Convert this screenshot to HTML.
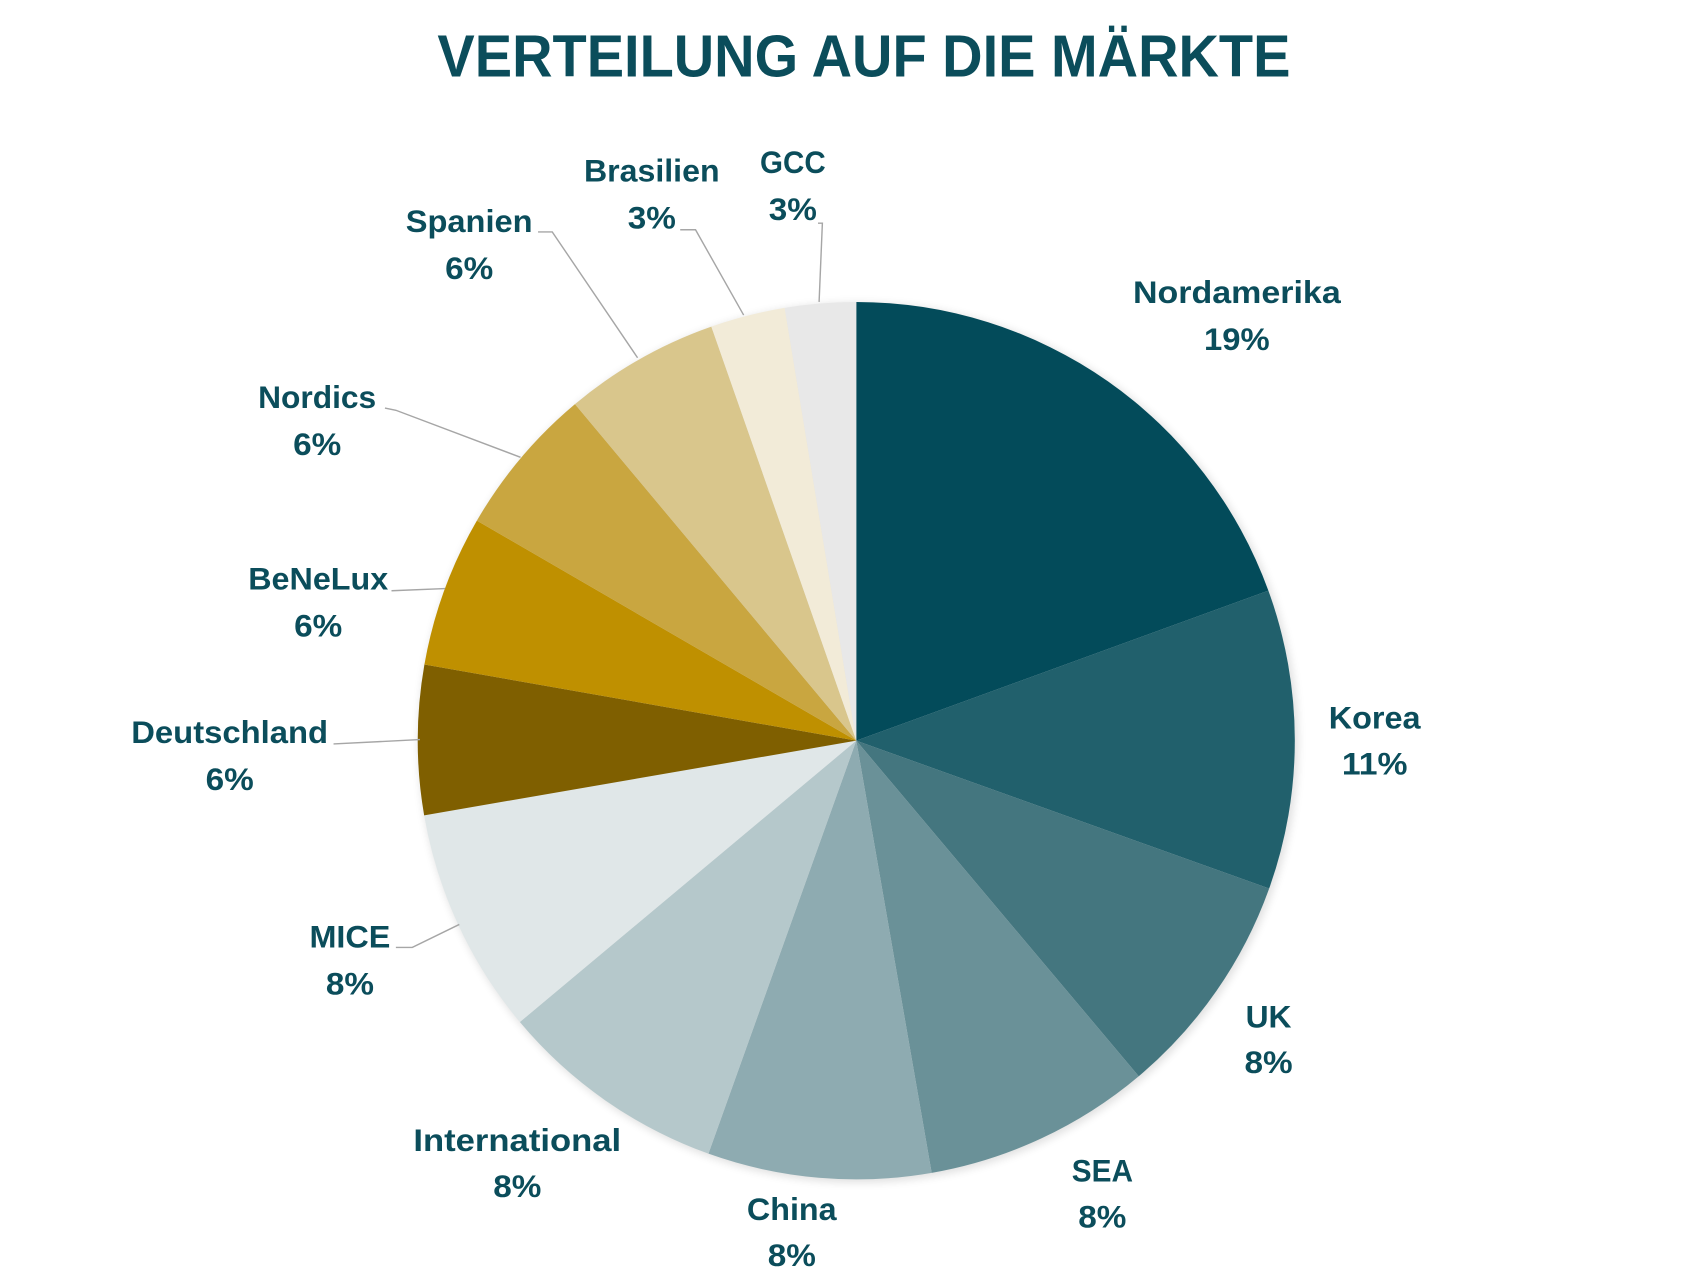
<!DOCTYPE html>
<html><head><meta charset="utf-8"><style>
html,body{margin:0;padding:0;background:#fff;}
svg{display:block;}
text{font-family:"Liberation Sans",sans-serif;font-weight:bold;fill:#0b4d5b;}
</style></head><body>
<svg id="s" width="1706" height="1280" viewBox="0 0 1560 1170" preserveAspectRatio="none">
<defs><filter id="sh" x="-10%" y="-10%" width="120%" height="120%"><feGaussianBlur stdDeviation="4"/></filter></defs>
<circle cx="785" cy="679" r="402" fill="#000" opacity="0.12" filter="url(#sh)"/>
<g id="pie"></g>
<text x="790" y="70" text-anchor="middle" font-size="54" textLength="780" lengthAdjust="spacingAndGlyphs">VERTEILUNG AUF DIE MÄRKTE</text>
<g fill="none" stroke="#a6a6a6" stroke-width="1.3">
<polyline points="492,212 505,212 583,327"/>
<polyline points="622,210 636,210 680,288"/>
<polyline points="748,204 752,204 749,276"/>
<polyline points="352,373 362,375 476,418"/>
<polyline points="358,540 407,538"/>
<polyline points="305,680 384,676"/>
<polyline points="362,866 377,866 420,845"/>
</g>
<g id="labels" font-size="29" text-anchor="middle"></g>
</svg>
<script>
var cx=783,cy=677,r=401;
var b=[0,70,109.7,139.9,170.1,199.7,230.1,260.2,280,300.1,320.1,340.7,350.6,360];
var c=["#034b5a","#21606c","#44767f","#6a9198","#8eabb1","#b5c8cb","#e0e7e8","#7f5f00","#bf9000","#c9a640","#d9c68c","#f2ebd8","#e8e8e8"];
var ns="http://www.w3.org/2000/svg",g=document.getElementById("pie");
function pt(a){a=a*Math.PI/180;return [cx+r*Math.sin(a),cy-r*Math.cos(a)];}
for(var i=0;i<13;i++){var p=pt(b[i]),q=pt(b[i+1]),l=(b[i+1]-b[i])>180?1:0;
var e=document.createElementNS(ns,"path");
e.setAttribute("d","M"+cx+","+cy+"L"+p[0]+","+p[1]+"A"+r+","+r+" 0 "+l+" 1 "+q[0]+","+q[1]+"Z");
e.setAttribute("fill",c[i]);g.appendChild(e);}
var L=[["Nordamerika","19%",1131,190,277,320],["Korea","11%",1257,84,666,708],["UK","8%",1160,42,939,981],["SEA","8%",1008,56,1080,1122],["China","8%",724,82,1115,1157],["International","8%",473,190,1052,1094],["MICE","8%",320,74,866,909],["Deutschland","6%",210,180,679,722],["BeNeLux","6%",291,128,539,582],["Nordics","6%",290,108,373,416],["Spanien","6%",429,116,212,255],["Brasilien","3%",596,124,166,209],["GCC","3%",725,60,158,201]];
var lg=document.getElementById("labels");
L.forEach(function(d){
[[d[0],d[3],d[4]],[d[1],d[1].length>2?60:44,d[5]]].forEach(function(t){
var e=document.createElementNS(ns,"text");e.setAttribute("x",d[2]);e.setAttribute("y",t[2]);
e.setAttribute("textLength",t[1]);e.setAttribute("lengthAdjust","spacingAndGlyphs");e.textContent=t[0];lg.appendChild(e);});
});
</script>
</body></html>
